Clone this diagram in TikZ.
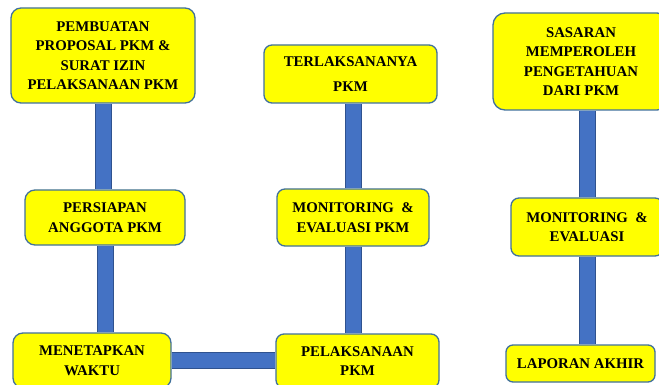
\documentclass[tikz,border=0pt]{standalone}
\usepackage{fontspec}
\setmainfont{Liberation Serif}
\usepackage{xcolor}
\usetikzlibrary{calc}

\definecolor{kuning}{HTML}{FFFF00}
\definecolor{tepi}{HTML}{41719C}
\definecolor{batangisi}{HTML}{4472C4}
\definecolor{batangtepi}{HTML}{2F528F}

\tikzset{
  kotak/.style={draw=tepi, line width=1.3pt, fill=kuning, rounded corners=10pt,
    align=center, inner sep=0pt,
    font=\bfseries\fontsize{14.8}{19.5}\selectfont},
  batang/.style={draw=batangtepi, line width=1pt, double=batangisi, double distance=15pt, line cap=butt}
}

\begin{document}
\begin{tikzpicture}[x=1pt,y=-1pt]
            %%% FRAME %%%
            \fill[white] (0,0) rectangle (659,385);
            \useasboundingbox (0,0) rectangle (659,385);

            %%% BOXES %%%
            \node[kotak, minimum width=184pt, minimum height=95pt] (pembuatan) at (103,55.5) {PEMBUATAN\\PROPOSAL PKM \&\\SURAT IZIN\\PELAKSANAAN PKM};
            \node[kotak, minimum width=160pt, minimum height=55pt] (persiapan) at (105,217.5) {PERSIAPAN\\ANGGOTA PKM};
            \node[kotak, minimum width=158pt, minimum height=55pt] (menetapkan) at (92,360.5) {MENETAPKAN\\WAKTU};

            \node[kotak, minimum width=173pt, minimum height=58pt, rounded corners=8pt] (terlaksana) at (350.5,74) {TERLAKSANANYA\\[5pt]PKM};
            \node[kotak, minimum width=152pt, minimum height=57pt, rounded corners=8pt] (monev) at (353,217.5) {MONITORING\ \ \&\\EVALUASI PKM};
            \node[kotak, minimum width=163pt, minimum height=54pt, rounded corners=8pt] (pelaksanaan) at (357.5,361) {PELAKSANAAN\\PKM};

            \node[kotak, minimum width=176pt, minimum height=97pt, rounded corners=12pt] (sasaran) at (581,61.5) {SASARAN\\MEMPEROLEH\\PENGETAHUAN\\DARI PKM};
            \node[kotak, minimum width=152pt, minimum height=58pt, rounded corners=8pt] (monevakhir) at (587,227) {MONITORING\ \ \&\\EVALUASI};
            \node[kotak, minimum width=149pt, minimum height=37pt, rounded corners=7pt] (laporan) at (580.5,363.5) {LAPORAN AKHIR};

            %%% BARS %%%
            \draw[batang] (pembuatan.south) -- (pembuatan.south |- persiapan.north);
            \draw[batang] (persiapan.south) -- (persiapan.south |- menetapkan.north);
            \draw[batang] (menetapkan.east) -- (menetapkan.east -| pelaksanaan.west);
            \draw[batang] (monev.north) -- (monev.north |- terlaksana.south);
            \draw[batang] (monev.south) -- (monev.south |- pelaksanaan.north);
            \draw[batang] (monevakhir.north) -- (monevakhir.north |- sasaran.south);
            \draw[batang] (monevakhir.south) -- (monevakhir.south |- laporan.north);
\end{tikzpicture}
\end{document}
